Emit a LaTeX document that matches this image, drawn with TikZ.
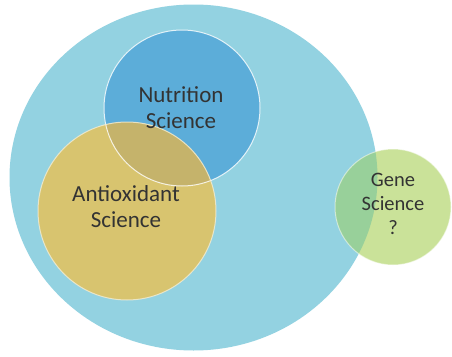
\documentclass[tikz,border=0pt]{standalone}
\usepackage{fontspec}
\setmainfont{Carlito}
\definecolor{bigblue}{HTML}{93D2E1}
\definecolor{nutri}{HTML}{5CADD9}
\definecolor{antiox}{HTML}{D8C46F}
\definecolor{naover}{HTML}{C5B36B}
\definecolor{gene}{HTML}{CAE299}
\definecolor{geneover}{HTML}{98D09A}
\definecolor{txt}{HTML}{333333}
\tikzset{
  lbl/.style={text=txt, align=center, font=\fontsize{23}{26}\selectfont},
  lblsmall/.style={text=txt, align=center, font=\fontsize{20.5}{24}\selectfont},
  rim/.style={draw=white, line width=1pt, draw opacity=0.8}
}
\begin{document}
\begin{tikzpicture}[x=1pt,y=-1pt]
\useasboundingbox (0,0) rectangle (452,356);
\fill[white] (0,0) rectangle (452,356);
% big circle
\fill[bigblue] (193.5,177.5) ellipse [x radius=184pt, y radius=173pt];
% nutrition
\fill[nutri] (182,108) circle [radius=78pt];
% antioxidant
\fill[antiox] (127,211) circle [radius=89pt];
\begin{scope}
  \clip (182,108) circle [radius=78pt];
  \fill[naover] (127,211) circle [radius=89pt];
\end{scope}
\draw[rim] (182,108) circle [radius=78pt];
\draw[rim, draw=white!70!antiox] (127,211) circle [radius=89pt];
% gene
\fill[gene] (393,207) circle [radius=58pt];
\begin{scope}
  \clip (393,207) circle [radius=58pt];
  \fill[geneover] (193.5,177.5) ellipse [x radius=184pt, y radius=173pt];
\end{scope}
\draw[rim, draw opacity=0.5] (393,207) circle [radius=58pt];
% labels
\node[lbl] (n) at (181,108) {Nutrition\\Science};
\node[lbl] (a) at (126,207) {Antioxidant\\Science};
\node[lblsmall] (g) at (393,204) {Gene\\Science\\?};
\end{tikzpicture}
\end{document}
